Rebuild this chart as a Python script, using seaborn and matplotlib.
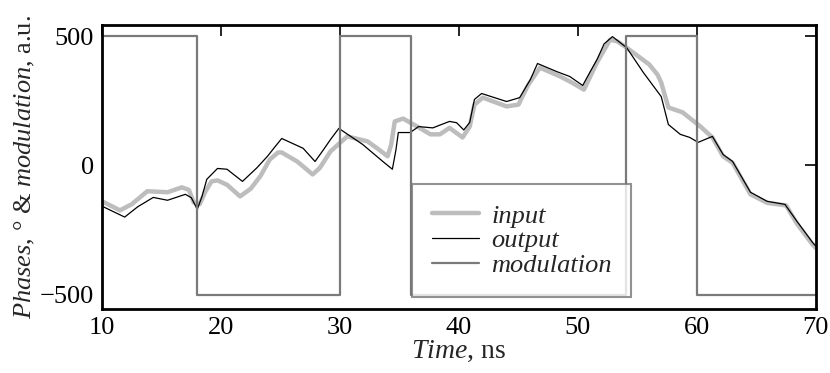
import matplotlib
matplotlib.use("Agg")
import matplotlib.pyplot as plt
import seaborn as sns
import numpy as np

# ---- data ----
t_input = [10, 11.5, 12.5, 13.8, 15.5, 16.7, 17.3, 17.7, 18.2, 18.7, 19.2, 19.7, 20.5, 21.6, 22.5,
           23.3, 24.1, 24.8, 25.1, 26.4, 27.7, 28.3, 29.2, 30.6, 32.3, 33.3, 34.0, 34.3, 34.6, 35.3,
           36.5, 37.6, 38.4, 39.2, 40.3, 40.9, 41.3, 42.0, 44.0, 45.0, 45.8, 46.8, 48.5, 49.5, 50.5,
           51.6, 52.7, 53.3, 54.1, 56.0, 56.7, 57.0, 57.6, 58.8, 60.3, 61.3, 62.2, 63.0, 64.5, 65.9,
           67.5, 68.4, 69.7, 70]
v_input = [-139, -174, -150, -100, -104, -85, -95, -143, -150, -100, -62, -58, -75, -120, -90,
           -42, 23, 50, 50, 15, -35, -10, 54, 112, 93, 60, 35, 80, 170, 181,
           150, 120, 120, 145, 108, 150, 235, 262, 228, 235, 310, 378, 344, 320, 293,
           398, 486, 480, 455, 390, 350, 320, 224, 205, 150, 108, 35, 10, -112, -145,
           -155, -225, -305, -320]

t_output = [10, 11.9, 13, 14.3, 15.5, 17.0, 17.5, 18.0, 18.4, 18.8, 19.7, 20.5, 21.8, 23.0, 23.9,
            24.5, 25.1, 26.9, 27.9, 28.6, 29.2, 29.9, 31.9, 33.6, 34.4, 34.7, 34.9, 35.9, 36.6, 37.8,
            39.2, 39.8, 40.4, 40.9, 41.3, 41.9, 44.0, 45.1, 46.0, 46.6, 48.2, 49.3, 50.4, 51.0, 51.6,
            52.2, 52.9, 54.1, 55.5, 57.0, 57.6, 58.6, 59.4, 60.1, 61.3, 62.2, 63.0, 64.5, 65.9, 67.4,
            68.4, 69.7, 70]
v_output = [-158, -200, -160, -124, -135, -112, -125, -170, -120, -54, -12, -15, -62, -10, 35,
            70, 104, 66, 15, 60, 100, 143, 81, 15, -15, 60, 127, 127, 150, 145,
            170, 165, 137, 166, 255, 278, 247, 262, 332, 394, 363, 344, 309, 360, 409,
            470, 498, 455, 359, 266, 158, 120, 108, 89, 112, 42, 15, -104, -139, -151,
            -216, -297, -313]

t_mod = [10, 18, 30, 36, 54, 60, 70]
v_mod = [500, -500, 500, -500, 500, -500, -500]

x_ticks = [10, 20, 30, 40, 50, 60, 70]
y_ticks = [-500, 0, 500]

# ---- style ----
sns.set_theme(style="white")
plt.rcParams["font.family"] = ["Liberation Serif", "DejaVu Serif"]
plt.rcParams["mathtext.fontset"] = "custom"
plt.rcParams["mathtext.rm"] = "Liberation Serif"
plt.rcParams["mathtext.it"] = "Liberation Serif:italic"

fig, ax = plt.subplots(figsize=(8.3, 3.73), dpi=100)
fig.subplots_adjust(left=0.123, right=0.983, top=0.933, bottom=0.172)

sns.lineplot(x=t_input, y=v_input, ax=ax, color="#bdbdbd", lw=3.2, label="input",
             sort=False, estimator=None)
sns.lineplot(x=t_output, y=v_output, ax=ax, color="black", lw=0.9, label="output",
             sort=False, estimator=None)
sns.lineplot(x=t_mod, y=v_mod, ax=ax, color="#7a7a7a", lw=1.6, label="modulation",
             drawstyle="steps-post", sort=False, estimator=None)

ax.set_xlim(10, 70)
ax.set_ylim(-555, 543)
ax.set_xticks(x_ticks)
ax.set_yticks(y_ticks)
ax.set_xticklabels([str(v) for v in x_ticks])
ax.set_yticklabels([("\u2212" + str(-v)) if v < 0 else str(v) for v in y_ticks])
ax.tick_params(direction="in", length=8, width=1.2, top=True, right=True,
               labelsize=19, colors="black", pad=6)
for s in ax.spines.values():
    s.set_linewidth(2)
    s.set_color("black")

ax.set_xlabel(r"$\mathit{Time}$, ns", fontsize=20, labelpad=0)
ax.set_ylabel(r"$\mathit{Phases}$, ° & $\mathit{modulation}$, a.u.", fontsize=19, labelpad=2)

leg = ax.legend(loc="lower left", bbox_to_anchor=(0.434, 0.042), borderaxespad=0,
                frameon=True, fancybox=False, edgecolor="#777777", handlelength=1.8,
                labelspacing=0.05, borderpad=0.75, handletextpad=0.45,
                prop={"family": "Liberation Serif", "style": "italic", "size": 19})
leg.get_frame().set_linewidth(1.5)

fig.savefig("out.png", dpi=100)
